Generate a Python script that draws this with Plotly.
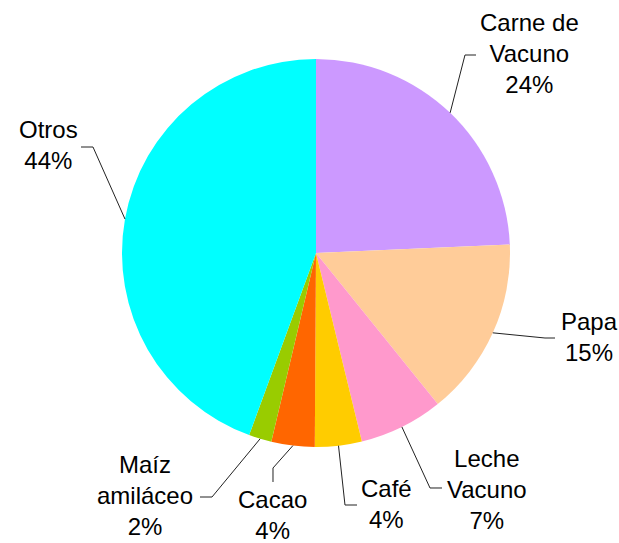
import math
import plotly.graph_objects as go

# ---- data ----
categories = ["Carne de Vacuno", "Papa", "Leche Vacuno", "Café", "Cacao", "Maíz amiláceo", "Otros"]
label_text = ["Carne de<br>Vacuno", "Papa", "Leche<br>Vacuno", "Café", "Cacao", "Maíz<br>amiláceo", "Otros"]
values = [24.3, 14.9, 7.0, 3.9, 3.6, 1.9, 44.4]
colors = ["#CC99FF", "#FFCC99", "#FF99CC", "#FFCC00", "#FF6600", "#99CC00", "#00FFFF"]

# ---- layout config (pixels) ----
W, H = 619, 543
CX, CY, R = 316, 253, 194
FONT = dict(family="Liberation Sans, Arial, sans-serif", size=24, color="#000000")
# label centre positions and leader-line elbow/end points (pixel space)
label_pos = [(529, 54), (589, 337), (487, 489), (386, 504), (272, 515), (145, 495), (48, 145)]
leader_pts = [
    [(465, 55), (476, 55)],
    [(545, 338), (555, 338)],
    [(430, 488), (442, 488)],
    [(345, 505), (357, 505)],
    [(273, 468), (273, 482)],
    [(212, 497), (200, 497)],
    [(93, 147), (81, 147)],
]

def px(x, y):
    return x / W, 1 - y / H

total = sum(values)
fig = go.Figure(go.Pie(
    labels=categories, values=values, sort=False, direction="clockwise", rotation=0,
    marker=dict(colors=colors, line=dict(width=0)), textinfo="none", hoverinfo="label+percent",
    showlegend=False,
    domain=dict(x=[(CX - R) / W, (CX + R) / W], y=[(H - CY - R) / H, (H - CY + R) / H]),
))

shapes, annotations = [], []
cum = 0.0
for i, v in enumerate(values):
    mid = (cum + v / 2) / total * 2 * math.pi
    cum += v
    ax, ay = CX + R * math.sin(mid), CY - R * math.cos(mid)
    pts = [(ax, ay)] + leader_pts[i]
    path = "M " + " L ".join(f"{px(x, y)[0]:.5f},{px(x, y)[1]:.5f}" for x, y in pts)
    shapes.append(dict(type="path", path=path, xref="paper", yref="paper",
                       line=dict(color="#222222", width=1)))
    pct = round(v / total * 100)
    lx, ly = px(*label_pos[i])
    annotations.append(dict(text=f"{label_text[i]}<br>{pct}%", x=lx, y=ly, xref="paper", yref="paper",
                            xanchor="center", yanchor="middle", showarrow=False, font=FONT, align="center"))

fig.update_layout(width=W, height=H, margin=dict(l=0, r=0, t=0, b=0),
                  paper_bgcolor="white", plot_bgcolor="white",
                  shapes=shapes, annotations=annotations)
fig.write_html("out.html", config=dict(displayModeBar=False),
               post_script="document.body.style.margin='0';document.body.style.padding='0';document.body.style.overflow='hidden';")
